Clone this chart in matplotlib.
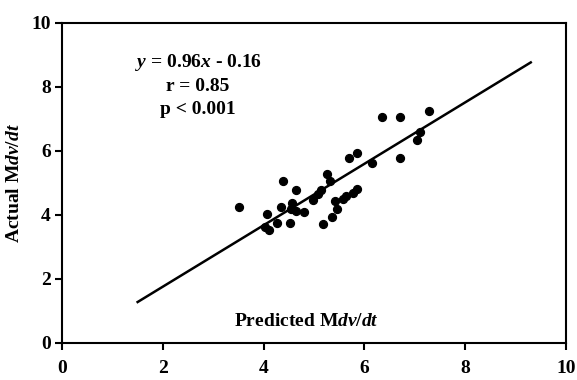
import numpy as np
import matplotlib
matplotlib.use('Agg')
import matplotlib.pyplot as plt

# predicted vs actual Mdv/dt
predicted = [3.51, 4.07, 4.02, 4.10, 4.26, 4.35, 4.39, 4.52, 4.57, 4.55, 4.64, 4.64,
             4.81, 4.98, 5.07, 5.14, 5.17, 5.26, 5.32, 5.35, 5.42, 5.46, 5.58, 5.64,
             5.70, 5.77, 5.85, 5.85, 6.15, 6.35, 6.71, 6.71, 7.04, 7.11, 7.29]
actual = [4.26, 4.04, 3.62, 3.54, 3.76, 4.26, 5.07, 3.76, 4.36, 4.18, 4.77, 4.11,
          4.09, 4.47, 4.65, 4.78, 3.71, 5.28, 5.07, 3.95, 4.45, 4.18, 4.50, 4.60,
          5.79, 4.68, 4.81, 5.93, 5.63, 7.06, 7.06, 5.79, 6.34, 6.60, 7.26]

slope, intercept = 0.96, -0.16
line_x = np.array([1.5, 9.3])

plt.rcParams['font.family'] = ['Liberation Serif', 'DejaVu Serif']
plt.rcParams['font.weight'] = 'bold'
plt.rcParams['axes.labelweight'] = 'bold'
plt.rcParams['mathtext.fontset'] = 'custom'
plt.rcParams['mathtext.rm'] = 'Liberation Serif:bold'
plt.rcParams['mathtext.bf'] = 'Liberation Serif:bold'
plt.rcParams['mathtext.it'] = 'Liberation Serif:italic:bold'
plt.rcParams['mathtext.bfit'] = 'Liberation Serif:italic:bold'

fig = plt.figure(figsize=(5.77, 3.80), dpi=100)
ax = fig.add_axes([0.1075, 0.0974, 0.8735, 0.8421])

ax.scatter(predicted, actual, s=32, color='black', zorder=3)
ax.plot(line_x, slope * line_x + intercept, color='black', lw=1.8)

ax.set_xlim(0, 10)
ax.set_ylim(0, 10)
ax.set_xticks(range(0, 11, 2))
ax.set_yticks(range(0, 11, 2))
ax.tick_params(axis='x', direction='out', length=5, width=1.5, pad=7, labelsize=14)
ax.tick_params(axis='y', direction='out', length=5, width=1.5, pad=3, labelsize=14)
for s in ax.spines.values():
    s.set_linewidth(1.5)

ax.text(2.7, 8.75, r'$\mathit{y}$ = 0.96$\mathit{x}$ - 0.16', ha='center', va='center', fontsize=14)
ax.text(2.7, 8.02, 'r = 0.85', ha='center', va='center', fontsize=14)
ax.text(2.7, 7.3, 'p < 0.001', ha='center', va='center', fontsize=14)

ax.text(4.85, 0.68, r'Predicted M$\mathit{dv/dt}$', ha='center', va='center', fontsize=14)
ax.set_ylabel(r'Actual M$\mathit{dv/dt}$', fontsize=14, labelpad=6)

fig.savefig('out.png', dpi=100)
